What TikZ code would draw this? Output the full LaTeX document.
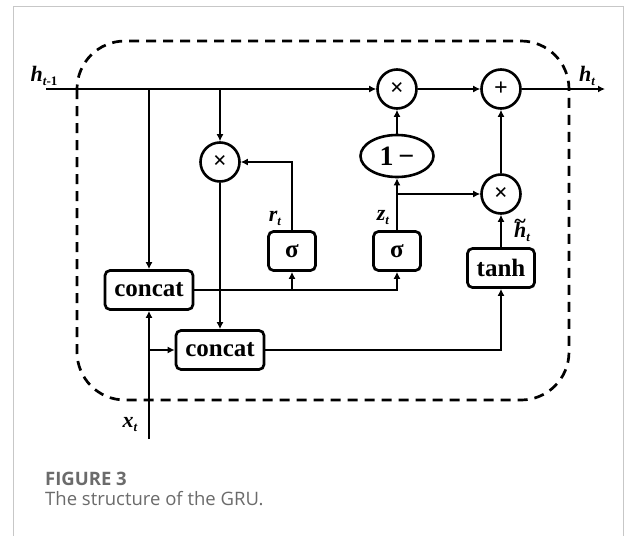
\documentclass[tikz,border=0pt]{standalone}
\usepackage{fontspec}
\setmainfont{Liberation Serif}
\newfontfamily\capfont{Open Sans}
\usetikzlibrary{arrows.meta,shapes.geometric}
\newcommand{\subt}[1]{\raisebox{-4pt}{\fontsize{13}{13}\selectfont #1}}
\newcommand{\tildeh}{\ooalign{\hfil\raisebox{9pt}{\upshape\textasciitilde}\hfil\cr h}}
\begin{document}
\begin{tikzpicture}[x=1pt,y=-1pt,
  conn/.style={line width=2.5pt,-{Latex[length=7pt,width=7pt]}},
  box/.style={draw,line width=2.7pt,rounded corners=5pt,inner sep=0pt,minimum height=39pt,font=\fontsize{25}{25}\selectfont\bfseries},
  op/.style={draw,circle,line width=2.6pt,minimum size=39pt,inner sep=0pt,font=\fontsize{24}{24}\selectfont\bfseries},
  lab/.style={font=\fontsize{22}{22}\selectfont\bfseries\itshape,inner sep=0pt},
  dashbox/.style={line width=2.7pt,dash pattern=on 10pt off 7pt,rounded corners=48pt},
  frame/.style={draw=black!22,line width=1pt},
  capA/.style={anchor=base west,inner sep=0pt,text=black!58,font=\capfont\fontsize{18.5}{18.5}\selectfont\bfseries},
  capB/.style={anchor=base west,inner sep=0pt,text=black!58,font=\capfont\fontsize{18.5}{18.5}\selectfont},
]
\useasboundingbox (0,0) rectangle (625,536);
\fill[white] (0,0) rectangle (625,536);
\draw[frame] (13,536) -- (13,6) -- (623,6) -- (623,536);

% dashed cell boundary
\draw[dashbox] (77,41) rectangle (569,400);

% nodes
\node[box,minimum width=88pt] (c1) at (149,290) {concat};
\node[box,minimum width=88pt] (c2) at (220,350) {concat};
\node[box,minimum width=47pt] (s1) at (292,251) {σ};
\node[box,minimum width=47pt] (s2) at (397,251) {σ};
\node[box,minimum width=67pt] (th) at (501,268) {tanh};
\node[op] (mr) at (220,162) {×};
\node[op] (m1) at (397,89) {×};
\node[op] (pl) at (501,89) {+};
\node[op] (mh) at (501,194) {×};
\node[draw,ellipse,line width=2.6pt,minimum width=73pt,minimum height=42pt,inner sep=0pt,
      font=\fontsize{28}{28}\selectfont\bfseries] (om) at (397,156) {1\,−};

% free ends
\coordinate (hin) at (46,89);
\coordinate (hout) at (605,89);
\coordinate (xin) at (149,439);
\coordinate (j1) at (149,89);
\coordinate (j2) at (220,89);

% connectors
\draw[conn] (hin) -- (m1);
\draw[conn] (m1) -- (pl);
\draw[conn] (pl) -- (hout);
\draw[conn] (j1) -- (c1);
\draw[conn] (j2) -- (mr);
\draw[conn] (mr) -- (c2);
\draw[conn] (s1.north) |- (mr);
\draw[conn] (c1.east) -| (s2.south);
\draw[conn] (s1.south |- c1.east) -- (s1.south);
\draw[conn] (xin) -- (c1.south);
\draw[conn] (xin |- c2.west) -- (c2.west);
\draw[conn] (c2.east) -| (th.south);
\draw[conn] (th) -- (mh);
\draw[conn] (s2) -- (om);
\draw[conn] (s2.north |- mh) -- (mh);
\draw[conn] (om) -- (m1);
\draw[conn] (mh) -- (pl);

% labels
\node[lab] (lhin) at (44,76) {h\subt{t\upshape-1}};
\node[lab] (lhout) at (587,76) {h\subt{t}};
\node[lab] (lr) at (275,218) {r\subt{t}};
\node[lab] (lz) at (383,218) {z\subt{t}};
\node[lab] (lht) at (522,230) {\tildeh\subt{t}};
\node[lab] (lx) at (130,425) {x\subt{t}};

% caption
\node[capA] (fig) at (45,485) {FIGURE 3};
\node[capB] (cap) at (45,505) {The structure of the GRU.};
\end{tikzpicture}
\end{document}
